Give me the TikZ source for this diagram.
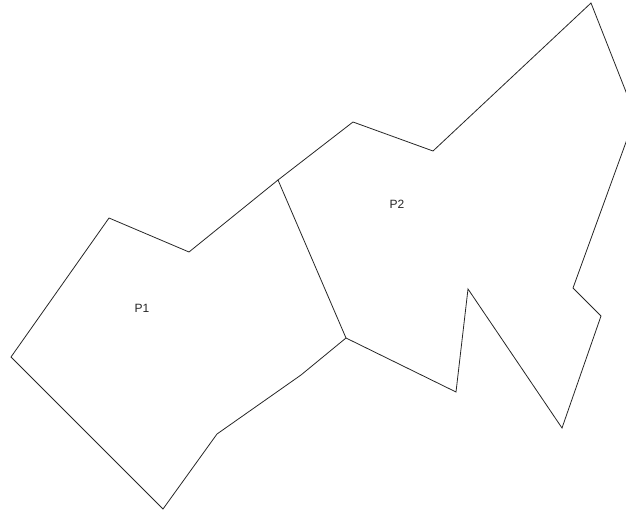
\documentclass[tikz,border=0pt]{standalone}
\usepackage{fontspec}
\setmainfont{Liberation Sans}
\begin{document}
\begin{tikzpicture}[x=1pt,y=-1pt,
  edge/.style={draw=black!85, line width=0.8pt, line join=miter},
  lbl/.style={font=\fontsize{12}{14}\selectfont, text=black!85, inner sep=0pt}]
\useasboundingbox (0,0) rectangle (626,510);
\clip (0,0) rectangle (626,510);
% shared vertices
\coordinate (s1) at (278,180);
\coordinate (s2) at (346,338);
% P1
\coordinate (a1) at (11,357);
\coordinate (a2) at (109,218);
\coordinate (a3) at (189,252);
\coordinate (a4) at (301,375);
\coordinate (a5) at (217,434);
\coordinate (a6) at (163,509);
% P2
\coordinate (b1) at (353,122);
\coordinate (b2) at (433,151);
\coordinate (b3) at (591,3);
\coordinate (b4) at (635.5,116);
\coordinate (b5) at (573,288);
\coordinate (b6) at (601,316);
\coordinate (b7) at (562,428);
\coordinate (b8) at (468,289);
\coordinate (b9) at (456,392);
\path[edge] (a1) -- (a2) -- (a3) -- (s1) -- (s2) -- (a4) -- (a5) -- (a6) -- cycle;
\path[edge] (s1) -- (b1) -- (b2) -- (b3) -- (b4) -- (b5) -- (b6) -- (b7) -- (b8) -- (b9) -- (s2);
\node[lbl] (p1) at (142,308) {P1};
\node[lbl] (p2) at (397,204) {P2};
\end{tikzpicture}
\end{document}
